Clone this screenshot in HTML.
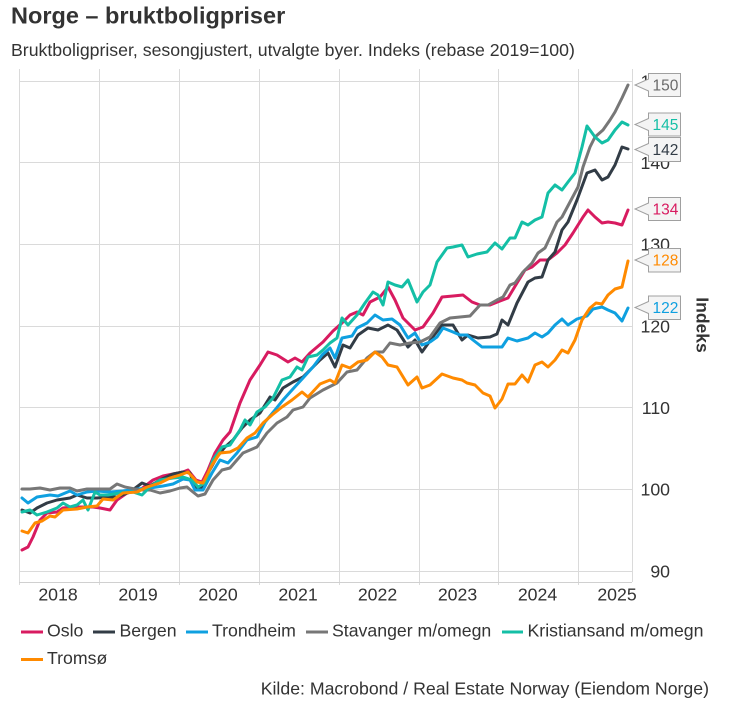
<!DOCTYPE html>
<html>
<head>
<meta charset="utf-8">
<style>
  html, body { margin: 0; padding: 0; background: #ffffff; }
  body { width: 740px; height: 712px; overflow: hidden; }
  svg { display: block; }
  text { font-family: "Liberation Sans", Arial, sans-serif; fill: #333333; }
</style>
</head>
<body>
<svg width="740" height="712" viewBox="0 0 740 712" xmlns="http://www.w3.org/2000/svg">
  <!-- Title / subtitle -->
  <text x="11" y="23.5" font-size="23.5" font-weight="bold" fill="#333">Norge – bruktboligpriser</text>
  <text x="11" y="56" font-size="17.7">Bruktboligpriser, sesongjustert, utvalgte byer. Indeks (rebase 2019=100)</text>

  <!-- Grid -->
  <g stroke="#dadada" stroke-width="1" fill="none" shape-rendering="crispEdges">
    <line x1="19.5" y1="69" x2="19.5" y2="585"/>
    <line x1="99.5" y1="69" x2="99.5" y2="585"/>
    <line x1="179.5" y1="69" x2="179.5" y2="585"/>
    <line x1="259.5" y1="69" x2="259.5" y2="585"/>
    <line x1="339.5" y1="69" x2="339.5" y2="585"/>
    <line x1="419.5" y1="69" x2="419.5" y2="585"/>
    <line x1="498.5" y1="69" x2="498.5" y2="585"/>
    <line x1="578.5" y1="69" x2="578.5" y2="585"/>
    <line x1="632.5" y1="69" x2="632.5" y2="582"/>
    <line x1="19" y1="81.5" x2="632" y2="81.5"/>
    <line x1="19" y1="162.5" x2="632" y2="162.5"/>
    <line x1="19" y1="244.5" x2="632" y2="244.5"/>
    <line x1="19" y1="326.5" x2="632" y2="326.5"/>
    <line x1="19" y1="407.5" x2="632" y2="407.5"/>
    <line x1="19" y1="489.5" x2="632" y2="489.5"/>
    <line x1="19" y1="571.5" x2="632" y2="571.5"/>
    <line x1="19" y1="582.5" x2="632" y2="582.5" stroke="#d0d0d0"/>
  </g>

  <!-- Y tick labels -->
  <g font-size="17.7" text-anchor="end">
    <text x="670" y="87.5">150</text>
    <text x="670" y="169">140</text>
    <text x="670" y="250.5">130</text>
    <text x="670" y="332.5">120</text>
    <text x="670" y="414">110</text>
    <text x="670" y="495.5">100</text>
    <text x="670" y="577.5">90</text>
  </g>

  <!-- X tick labels -->
  <g font-size="17.7" text-anchor="middle">
    <text x="58" y="600.7">2018</text>
    <text x="138" y="600.7">2019</text>
    <text x="218" y="600.7">2020</text>
    <text x="298" y="600.7">2021</text>
    <text x="377.5" y="600.7">2022</text>
    <text x="457.5" y="600.7">2023</text>
    <text x="537.5" y="600.7">2024</text>
    <text x="617" y="600.7">2025</text>
  </g>

  <!-- Axis title -->
  <text transform="translate(696.5,325) rotate(90)" text-anchor="middle" font-size="17.5" font-weight="bold">Indeks</text>

  <!-- Series -->
  <g fill="none" stroke-width="3" stroke-linejoin="round" stroke-linecap="round">
    <!-- Oslo -->
    <polyline stroke="#d81b60" points="22,550 28,547 33,537 40,520 47,513 57,512 63,508 72,507 82,507 93,507 100,508 110,510 117,500 127,493 140,490 153,480 163,476 173,474 183,472 188,470 196,480 202,482 208,470 215,453 223,440 230,432 240,403 250,380 260,365 268,352 277,355 288,362 295,358 302,362 310,353 323,342 333,331 342,323 350,315 357,312 363,315 370,302 380,297 388,287 395,300 403,318 415,330 423,327 433,313 442,297 453,296 463,295 472,302 480,305 490,305 500,301 508,298 517,283 525,270 532,267 540,260 548,260 557,253 565,245 573,233 583,217 588,210 595,217 602,223 608,222 615,223 622,225 628,210"/>
    <!-- Bergen -->
    <polyline stroke="#323c46" points="22,510 30,513 37,508 47,503 57,500 70,498 77,495 87,498 97,498 107,497 117,497 130,492 142,483 150,486 160,480 173,474 183,472 190,473 195,487 202,488 208,473 217,457 225,447 233,440 242,428 250,420 260,413 270,397 275,400 283,388 293,382 303,377 313,367 320,360 328,353 335,367 343,345 350,348 358,335 368,328 378,330 388,325 397,330 408,347 415,340 422,352 432,338 442,325 453,325 462,340 468,335 478,338 490,337 497,334 502,320 508,325 517,303 528,282 535,278 542,277 548,260 555,252 562,230 568,222 577,200 587,173 595,170 602,180 608,177 615,165 622,147 628,149"/>
    <!-- Trondheim -->
    <polyline stroke="#0fa0e0" points="22,498 28,503 37,497 50,495 58,496 70,491 77,495 87,492 97,491 110,492 123,491 137,489 150,488 163,486 173,484 183,479 190,480 195,490 203,490 212,473 220,460 228,463 237,453 247,440 257,437 265,422 275,410 283,400 292,390 303,378 313,367 322,355 330,348 335,358 342,338 352,336 357,328 367,323 375,315 383,320 392,319 400,325 408,338 415,333 422,345 430,342 437,337 443,328 453,332 460,335 467,335 473,340 482,347 493,347 502,347 508,338 517,341 528,338 535,333 542,337 548,333 555,325 562,319 568,325 577,319 587,316 593,309 602,307 608,310 615,313 622,321 628,308"/>
    <!-- Stavanger -->
    <polyline stroke="#777777" points="22,489 30,489 40,488 50,490 60,488 70,488 77,491 87,489 97,489 110,489 117,484 125,487 140,490 150,490 160,493 170,491 180,488 187,487 193,492 198,496 205,494 213,480 222,470 230,468 243,453 257,447 267,433 277,423 287,417 293,410 303,407 310,398 323,390 337,383 347,372 357,370 367,358 375,352 383,352 390,343 400,345 410,343 420,342 430,337 440,323 450,318 460,317 470,316 480,305 488,305 497,300 503,297 510,285 515,283 523,272 532,263 538,253 545,248 552,233 557,222 562,217 570,202 578,187 583,167 590,147 595,137 603,130 610,120 615,112 622,98 628,85"/>
    <!-- Kristiansand -->
    <polyline stroke="#14bfa6" points="22,512 30,510 37,515 47,512 57,508 63,503 70,507 77,505 83,500 88,510 95,492 100,495 108,495 120,493 133,492 142,495 150,487 160,480 173,478 183,477 192,480 198,487 205,483 213,460 222,447 230,445 240,430 245,420 250,425 257,412 265,407 273,398 282,380 290,377 297,367 302,370 308,357 317,355 323,350 330,343 337,338 342,318 348,325 357,315 365,303 373,292 378,295 383,305 388,282 395,285 402,287 408,280 417,302 423,292 430,285 437,262 447,248 453,247 462,245 468,257 477,254 487,252 495,243 502,249 510,238 515,238 522,222 528,225 535,220 542,217 548,193 555,185 562,190 568,182 575,173 582,147 587,126 595,137 602,143 608,140 615,130 622,122 628,125"/>
    <!-- Tromsø -->
    <polyline stroke="#ff8a00" points="22,531 28,533 35,523 42,521 50,516 55,517 63,510 77,509 87,507 97,506 103,499 113,500 123,493 137,492 147,487 160,483 170,478 180,475 188,472 197,482 203,483 212,465 220,453 230,452 238,448 247,438 255,433 263,423 272,415 282,407 292,400 302,392 308,397 320,384 330,380 335,383 342,365 350,368 358,362 367,360 375,352 382,357 388,365 397,367 408,385 417,377 422,388 430,385 442,374 453,378 462,380 467,383 475,385 483,393 490,396 495,408 502,399 508,384 515,384 522,375 528,382 535,365 542,362 548,367 555,360 562,350 568,353 575,340 582,320 590,308 596,303 602,304 608,295 615,289 622,287 628,261"/>
  </g>

  <!-- Callout labels -->
  <g fill="#f4f4f4" stroke="#a0a0a0" stroke-width="1">
    <path d="M648.5,73.5 L680.5,73.5 L680.5,96.5 L648.5,96.5 L648.5,91 L635,85 L648.5,79 Z"/>
    <path d="M648.5,113 L680.5,113 L680.5,136 L648.5,136 L648.5,130.5 L635,124.5 L648.5,118.5 Z"/>
    <path d="M648.5,137.5 L680.5,137.5 L680.5,161.5 L648.5,161.5 L648.5,155.5 L635,149.5 L648.5,143.5 Z"/>
    <path d="M648.5,197.5 L680.5,197.5 L680.5,220.5 L648.5,220.5 L648.5,215 L635,209 L648.5,203 Z"/>
    <path d="M648.5,248.5 L680.5,248.5 L680.5,272 L648.5,272 L648.5,266 L635,260 L648.5,254 Z"/>
    <path d="M648.5,296 L680.5,296 L680.5,319.5 L648.5,319.5 L648.5,313.5 L635,307.5 L648.5,301.5 Z"/>
  </g>
  <g font-size="15.5">
    <text x="652.5" y="90.5" fill="#6a6a6a" style="fill:#6a6a6a">150</text>
    <text x="652.5" y="130" style="fill:#14bfa6">145</text>
    <text x="652.5" y="155" style="fill:#323c46">142</text>
    <text x="652.5" y="214.5" style="fill:#d81b60">134</text>
    <text x="652.5" y="265.5" style="fill:#ff8a00">128</text>
    <text x="652.5" y="313" style="fill:#0fa0e0">122</text>
  </g>

  <!-- Legend -->
  <g shape-rendering="crispEdges">
    <rect x="21" y="630.3" width="22" height="3" fill="#d81b60"/>
    <rect x="93" y="630.3" width="22" height="3" fill="#323c46"/>
    <rect x="186" y="630.3" width="22" height="3" fill="#0fa0e0"/>
    <rect x="306" y="630.3" width="22" height="3" fill="#777777"/>
    <rect x="502" y="630.3" width="21" height="3" fill="#14bfa6"/>
    <rect x="21" y="657.8" width="22" height="3" fill="#ff8a00"/>
  </g>
  <g font-size="17.7">
    <text x="47" y="636.7">Oslo</text>
    <text x="119.5" y="636.7">Bergen</text>
    <text x="212" y="636.7">Trondheim</text>
    <text x="332" y="636.7">Stavanger m/omegn</text>
    <text x="527.5" y="636.7">Kristiansand m/omegn</text>
    <text x="47" y="664">Tromsø</text>
  </g>

  <!-- Source -->
  <text x="709" y="694.3" font-size="17.7" text-anchor="end">Kilde: Macrobond / Real Estate Norway (Eiendom Norge)</text>
</svg>
</body>
</html>
